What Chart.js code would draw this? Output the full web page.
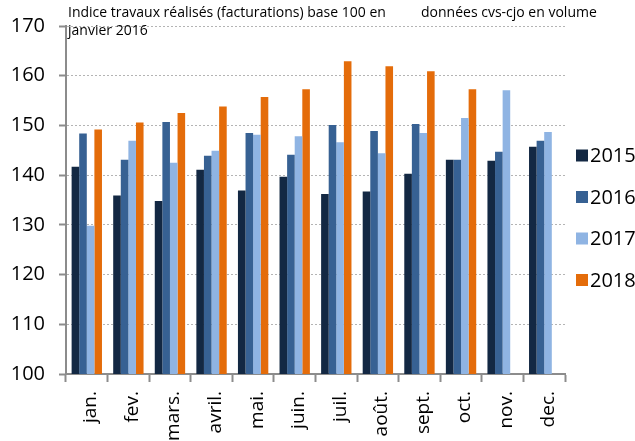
<!DOCTYPE html>
<html>
<head>
<meta charset="utf-8">
<script src="https://cdn.jsdelivr.net/npm/chart.js@4/dist/chart.umd.min.js"></script>
<style>
  body { margin: 0; background: #fff; }
  #wrap { width: 635px; height: 441px; }
</style>
</head>
<body>
<div id="wrap"><canvas id="barchart" width="635" height="441"></canvas></div>
<script>
// Data
const months = ['jan.', 'fev.', 'mars.', 'avril.', 'mai.', 'juin.', 'juil.', 'août.', 'sept.', 'oct.', 'nov.', 'dec.'];
const y2015 = [141.7, 135.9, 134.8, 141.1, 136.9, 139.7, 136.2, 136.7, 140.3, 143.1, 142.9, 145.7];
const y2016 = [148.4, 143.1, 150.7, 143.9, 148.5, 144.1, 150.1, 148.9, 150.3, 143.1, 144.7, 146.9];
const y2017 = [129.8, 146.9, 142.5, 144.9, 148.1, 147.8, 146.6, 144.4, 148.5, 151.5, 157.1, 148.7];
const y2018 = [149.2, 150.6, 152.5, 153.8, 155.7, 157.3, 162.9, 161.9, 160.9, 157.3, null, null];
const yTicks = [100, 110, 120, 130, 140, 150, 160, 170];

const FONT = 'Open Sans, Noto Sans, sans-serif';

let dataSet = [
  { label: '2015', data: y2015, backgroundColor: '#132843' },
  { label: '2016', data: y2016, backgroundColor: '#376193' },
  { label: '2017', data: y2017, backgroundColor: '#8fb4e3' },
  { label: '2018', data: y2018, backgroundColor: '#e46c0a' },
];

// texts + legend drawn on the canvas
const annotations = {
  id: 'annotations',
  afterDraw(chart) {
    const ctx = chart.ctx;
    ctx.save();
    ctx.fillStyle = '#000';
    ctx.textBaseline = 'alphabetic';
    ctx.textAlign = 'left';
    ctx.font = '14px ' + FONT;
    ctx.fillText('Indice travaux réalisés (facturations) base 100 en', 68, 17);
    ctx.fillText('janvier 2016', 68, 35);
    ctx.fillText('données cvs-cjo en volume', 421, 17);

    ctx.font = '20px ' + FONT;
    ctx.textBaseline = 'middle';
    chart.data.datasets.forEach((ds, i) => {
      const cy = 155.5 + i * 41.5;
      ctx.fillStyle = ds.backgroundColor;
      ctx.fillRect(576, cy - 6, 12, 12);
      ctx.fillStyle = '#000';
      ctx.fillText(ds.label, 590, cy + 1);
    });
    ctx.restore();
  },
};

new Chart(document.getElementById('barchart'), {
  type: 'bar',
  data: { labels: months, datasets: dataSet },
  plugins: [annotations],
  options: {
    responsive: false,
    animation: false,
    categoryPercentage: 0.73,
    barPercentage: 1.0,
    layout: { padding: { top: 24, right: 70, left: 0, bottom: 0 } },
    plugins: { legend: { display: false }, tooltip: { enabled: false } },
    scales: {
      x: {
        afterFit: (scale) => { scale.height = 67; },
        grid: {
          offset: true,
          drawOnChartArea: false,
          drawTicks: true,
          tickLength: 8,
          tickColor: '#8c8c8c',
          tickWidth: 2,
        },
        border: { color: '#8c8c8c', width: 2 },
        ticks: {
          minRotation: 90,
          maxRotation: 90,
          autoSkip: false,
          padding: 9,
          labelOffset: 4,
          color: '#000',
          font: { family: FONT, size: 19 },
        },
      },
      y: {
        min: 100,
        max: 170,
        afterFit: (scale) => { scale.width = 66; },
        afterBuildTicks: (scale) => { scale.ticks = yTicks.map((v) => ({ value: v })); },
        grid: {
          color: '#b4b4b4',
          lineWidth: 1,
          tickLength: 7,
          tickColor: '#8c8c8c',
          tickWidth: 2,
          tickBorderDash: [],
        },
        border: { color: '#8c8c8c', width: 2, dash: [2, 2] },
        ticks: {
          padding: 14,
          color: '#000',
          font: { family: FONT, size: 20 },
        },
      },
    },
  },
});
</script>
</body>
</html>
